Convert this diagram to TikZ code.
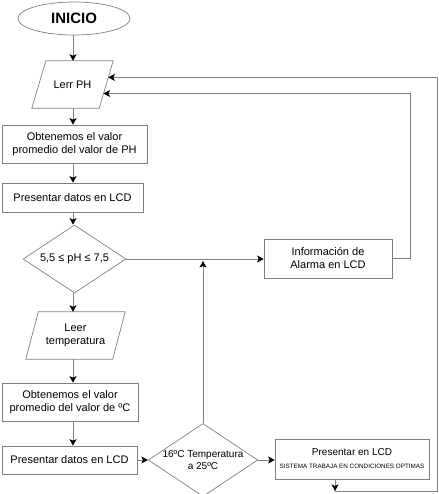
\documentclass[tikz,border=0pt]{standalone}
\usepackage{fontspec}
\setmainfont{Liberation Sans}
\usetikzlibrary{arrows.meta,shapes.geometric,calc}
\definecolor{linegray}{gray}{0.5}
\tikzset{
  outline/.style={draw=linegray, line width=0.7pt},
  box/.style={outline, rectangle, inner sep=0pt, align=center, font=\fontsize{11}{13}\selectfont},
  iobox/.style={rectangle, inner sep=0pt, align=center, font=\fontsize{11}{13}\selectfont},
  decision/.style={outline, diamond, aspect=1.5, inner sep=0pt, align=center, font=\fontsize{11}{13}\selectfont},
  flow/.style={outline, -{Stealth[length=6.5pt,width=7pt,inset=1.5pt,color=black]}}
}
\begin{document}
\begin{tikzpicture}[x=1pt,y=-1pt]
 \useasboundingbox (0,0) rectangle (438,494);
% main column
 \node[outline, ellipse, minimum width=112pt, minimum height=33pt, font=\fontsize{15}{17}\selectfont\bfseries] (inicio) at (74,18.5) {INICIO};
 \node[iobox, minimum width=81pt, minimum height=47pt] (lerrph) at (72.5,84.5) {Lerr PH};
 \node[box, minimum width=145pt, minimum height=38pt] (obtph) at (74.5,144) {Obtenemos el valor\\promedio del valor de PH};
 \node[box, minimum width=141pt, minimum height=29pt] (presph) at (72.5,197.5) {Presentar datos en LCD};
 \node[decision, minimum width=103pt, minimum height=68pt] (phchk) at (74.5,259) {5,5 ≤ pH ≤ 7,5};
 \node[iobox, minimum width=99pt, minimum height=47pt] (leertemp) at (75.5,335.5) {Leer\\temperatura};
 \node[box, minimum width=136pt, minimum height=38pt] (obtc) at (70,402) {Obtenemos el valor\\promedio del valor de ºC};
 \node[box, minimum width=135pt, minimum height=28pt] (presc) at (69.5,460) {Presentar datos en LCD};
% right side
 \node[decision, minimum width=102pt, minimum height=64pt, font=\fontsize{10}{12}\selectfont] (tchk) at (203,460) {16ºC Temperatura\\a 25ºC};
 \node[box, minimum width=128pt, minimum height=39pt] (alarm) at (328,258.5) {Información de\\Alarma en LCD};
 \node[box, minimum width=154pt, minimum height=40pt] (presok) at (352,459) {{\fontsize{10}{10}\selectfont Presentar en LCD}\\{\fontsize{6.3}{7}\selectfont SISTEMA TRABAJA EN CONDICIONES OPTIMAS}};

% parallelograms round the input nodes
 \draw[outline] ($(lerrph.north west)+(14,0)$) -- (lerrph.north east) -- ($(lerrph.south east)+(-14,0)$) -- (lerrph.south west) -- cycle;
 \draw[outline] ($(leertemp.north west)+(12.5,0)$) -- (leertemp.north east) -- ($(leertemp.south east)+(-12.5,0)$) -- (leertemp.south west) -- cycle;

 \coordinate (col) at (73,0);
 \coordinate (inA) at ($(lerrph.north east)!0.35!($(lerrph.south east)+(-14,0)$)$);
 \coordinate (inB) at ($(lerrph.north east)!0.69!($(lerrph.south east)+(-14,0)$)$);
 \coordinate (innerright) at (410,0);
 \coordinate (outerright) at (437,0);
 \coordinate (okdrop) at (335,491);

% flow down
 \draw[flow] (inicio.south -| col) -- (lerrph.north -| col);
 \draw[flow] (lerrph.south -| col) -- (obtph.north -| col);
 \draw[flow] (obtph.south -| col) -- (presph.north -| col);
 \draw[flow] (presph.south -| col) -- (phchk.north -| col);
 \draw[flow] (phchk.south -| col) -- (leertemp.north -| col);
 \draw[flow] (leertemp.south -| col) -- (obtc.north -| col);
 \draw[flow] (obtc.south -| col) -- (presc.north -| col);
 \draw[flow] (presc.east) -- (tchk.west);
 \draw[flow] (tchk.east) -- (tchk.east -| presok.west);
 \draw[flow] (phchk.east) -- (phchk.east -| alarm.west);
 \draw[flow, shorten >=2pt] (tchk.north) -- (tchk.north |- phchk.east);
% loops back
 \draw[flow] (alarm.east) -| (innerright |- inB) -- (inB);
 \draw[flow] (presok.south -| okdrop) -- (okdrop);
 \draw[flow] (okdrop) -| (outerright |- inA) -- (inA);
\end{tikzpicture}
\end{document}
